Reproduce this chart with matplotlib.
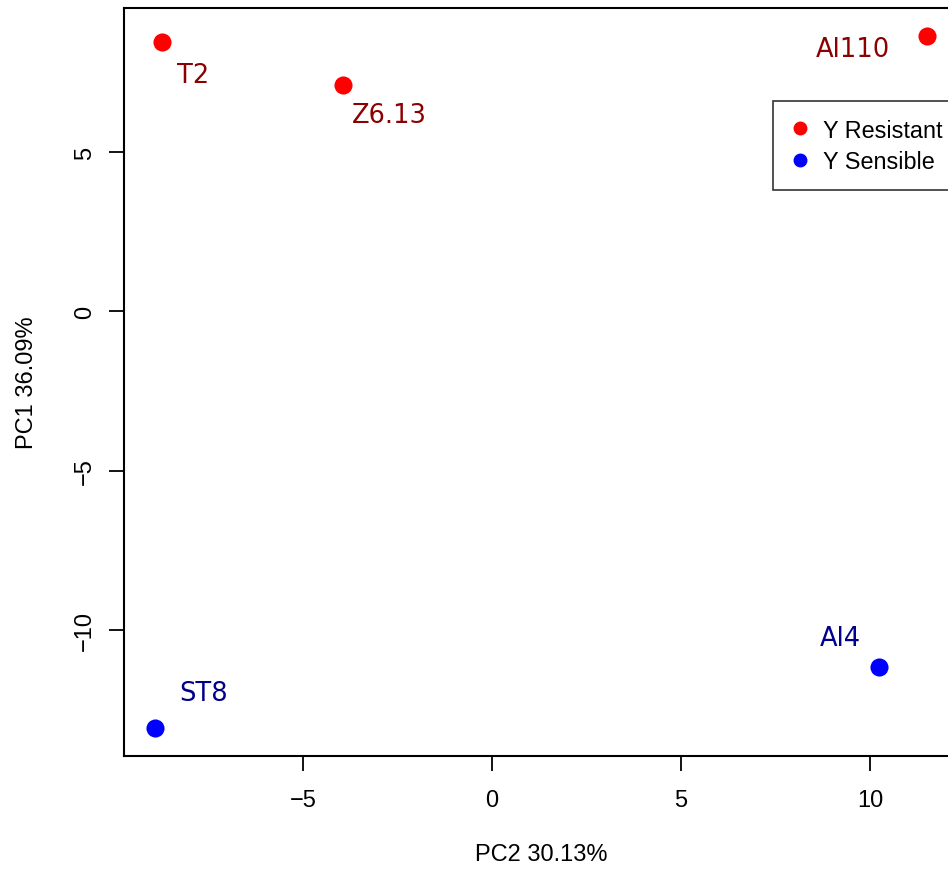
import matplotlib
matplotlib.use('Agg')
import matplotlib.pyplot as plt
from matplotlib.lines import Line2D

# PCA scores
samples = ['T2', 'Z6.13', 'Al110', 'ST8', 'Al4']
pc2 = [-8.73, -3.94, 11.51, -8.92, 10.24]
pc1 = [8.46, 7.11, 8.64, -13.07, -11.15]
groups = ['Y Resistant', 'Y Resistant', 'Y Resistant', 'Y Sensible', 'Y Sensible']
# label offsets (points) relative to each point
label_dx = [22, 33, -53, 35, -28]
label_dy = [-24, -22, -9, 25, 21]

point_col = {'Y Resistant': 'red', 'Y Sensible': 'blue'}
text_col = {'Y Resistant': '#8B0000', 'Y Sensible': '#00008B'}

plt.rcParams['font.family'] = ['Liberation Sans', 'DejaVu Sans']

fig = plt.figure(figsize=(9.48, 8.7), dpi=100)
ax = fig.add_axes([124 / 948, 1 - 757 / 870, (958 - 124) / 948, (757 - 9) / 870])

for name, x, y, g, dx, dy in zip(samples, pc2, pc1, groups, label_dx, label_dy):
    ax.scatter(x, y, s=170, color=point_col[g], zorder=3, linewidths=0)
    ax.annotate(name, (x, y), xytext=(dx, dy), textcoords='offset points',
                ha='center', va='center', color=text_col[g], fontsize=18.5,
                family='DejaVu Sans')

ax.set_xlim(-9.74, 12.33)
ax.set_ylim(-13.95, 9.52)
ax.set_xticks([-5, 0, 5, 10])
ax.set_yticks([-10, -5, 0, 5])
ax.tick_params(labelsize=17, length=11, width=1.3, pad=13)
ax.tick_params(axis='y', labelrotation=90, pad=9)
for lab in ax.get_yticklabels():
    lab.set_va('center')
for s in ax.spines.values():
    s.set_linewidth(1.5)

ax.set_xlabel('PC2 30.13%', fontsize=17, labelpad=23)
ax.set_ylabel('PC1 36.09%', fontsize=17, labelpad=26)

handles = [Line2D([], [], marker='o', ls='', color=point_col[g], markersize=9)
           for g in ['Y Resistant', 'Y Sensible']]
leg = fig.legend(handles, ['Y Resistant', 'Y Sensible'], loc='upper left',
                 bbox_to_anchor=(773 / 948, 1 - 102 / 870), fontsize=16.8,
                 frameon=True, fancybox=False, edgecolor='black', handlelength=0.8,
                 handletextpad=0.6, borderpad=0.75, labelspacing=0.35, borderaxespad=0)
leg.get_frame().set_linewidth(1.2)

fig.savefig('out.png', dpi=100)
